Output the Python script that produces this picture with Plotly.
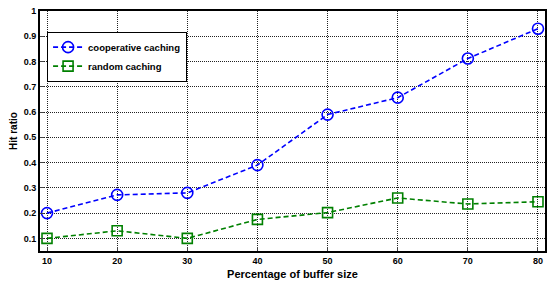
import plotly.graph_objects as go

buffer_pct = [10, 20, 30, 40, 50, 60, 70, 80]
coop_hit = [0.20, 0.272, 0.28, 0.39, 0.59, 0.657, 0.812, 0.93]
random_hit = [0.10, 0.13, 0.10, 0.175, 0.202, 0.26, 0.236, 0.245]
y_ticks = [0.1, 0.2, 0.3, 0.4, 0.5, 0.6, 0.7, 0.8, 0.9, 1.0]
y_labels = ["0.1", "0.2", "0.3", "0.4", "0.5", "0.6", "0.7", "0.8", "0.9", "1"]

font = "Liberation Sans"

fig = go.Figure()
fig.add_trace(go.Scatter(
    x=buffer_pct, y=coop_hit, name="cooperative caching",
    mode="lines+markers",
    line=dict(color="#0000ff", width=1.6, dash="5px,3px"),
    marker=dict(symbol="circle-open", size=11, color="#0000ff", line=dict(width=1.6, color="#0000ff")),
))
fig.add_trace(go.Scatter(
    x=buffer_pct, y=random_hit, name="random caching",
    mode="lines+markers",
    line=dict(color="#008000", width=1.6, dash="5px,3px"),
    marker=dict(symbol="square-open", size=10, color="#008000", line=dict(width=1.6, color="#008000")),
))

fig.update_layout(
    width=553, height=285,
    margin=dict(l=40, r=6, t=6, b=34),
    paper_bgcolor="white", plot_bgcolor="white",
    font=dict(family=font, size=9, color="black", weight="bold"),
    showlegend=True,
    legend=dict(x=0.014, y=0.914, xanchor="left", yanchor="top",
                bgcolor="white", bordercolor="black", borderwidth=1,
                font=dict(size=9.5, family=font, weight="bold"), tracegroupgap=0,
                itemwidth=30),
)
fig.update_xaxes(
    range=[9, 81], tickvals=buffer_pct,
    ticktext=[str(v) for v in buffer_pct],
    tickfont=dict(weight="bold"),
    showgrid=True, gridcolor="#222222", griddash="1px,1px", gridwidth=1,
    showline=True, linecolor="black", linewidth=2, mirror=True,
    ticks="inside", ticklen=4, zeroline=False,
    title=dict(text="Percentage of buffer size", font=dict(size=11, family=font, weight="bold"), standoff=6),
)
fig.update_yaxes(
    range=[0.05, 1.0], tickvals=y_ticks,
    ticktext=y_labels,
    tickfont=dict(weight="bold"),
    showgrid=True, gridcolor="#222222", griddash="1px,1px", gridwidth=1,
    showline=True, linecolor="black", linewidth=2, mirror=True,
    ticks="inside", ticklen=4, zeroline=False,
    title=dict(text="Hit ratio", font=dict(size=10, family=font, weight="bold"), standoff=4),
)

fig.write_html("out.html", config={"displayModeBar": False},
               post_script="document.body.style.margin='0';")
